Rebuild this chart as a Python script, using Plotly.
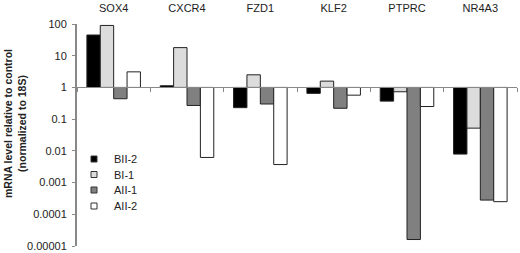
import plotly.graph_objects as go

genes = ["SOX4", "CXCR4", "FZD1", "KLF2", "PTPRC", "NR4A3"]
series_names = ["BII-2", "BI-1", "AII-1", "AII-2"]
bii2 = [45, 1.13, 0.23, 0.65, 0.37, 0.0079]
bi1 = [90, 18, 2.5, 1.58, 0.73, 0.052]
aii1 = [0.44, 0.27, 0.30, 0.22, 0.000016, 0.00028]
aii2 = [3.1, 0.0062, 0.0037, 0.57, 0.25, 0.00025]
tick_vals = [100, 10, 1, 0.1, 0.01, 0.001, 0.0001, 0.00001]
tick_text = ["100", "10", "1", "0.1", "0.01", "0.001", "0.0001", "0.00001"]

fills = ["#000000", "#dcdcdc", "#808080", "#ffffff"]
all_vals = [bii2, bi1, aii1, aii2]

fig = go.Figure()
for name, vals, col in zip(series_names, all_vals, fills):
    fig.add_trace(go.Bar(
        x=genes, y=[v - 1 for v in vals], base=1, name=name,
        marker=dict(color=col, line=dict(color="#222222", width=1)),
        showlegend=False, legendgroup=name,
    ))

# legend entries: small square markers, one legend box each for exact spacing
legend_keys = ["legend", "legend2", "legend3", "legend4"]
for i, (name, col, lk) in enumerate(zip(series_names, fills, legend_keys)):
    fig.add_trace(go.Scatter(
        x=[genes[0]], y=[None], mode="markers", name=name, legendgroup=name,
        marker=dict(symbol="square", size=6, color=col,
                    line=dict(color="#333333", width=1)),
        legend=lk, hoverinfo="skip",
    ))

L, R, T, B = 77, 3, 24, 7
leg_common = dict(xanchor="left", yanchor="middle", bgcolor="rgba(0,0,0,0)",
                  font=dict(size=11), itemwidth=30, borderwidth=0)
leg_y_px = [159, 174.5, 190, 206]
plot_h = 253 - T - B
layout_legends = {}
for lk, ypx in zip(legend_keys, leg_y_px):
    d = dict(leg_common)
    d.update(x=(74 - L) / 440, y=(253 - B - ypx) / plot_h)
    layout_legends[lk] = d

fig.update_layout(
    width=520, height=253,
    margin=dict(l=L, r=R, t=T, b=B, pad=0, autoexpand=False),
    paper_bgcolor="white", plot_bgcolor="white",
    barmode="group", bargap=0.27, bargroupgap=0,
    font=dict(family="Liberation Sans, Arial", size=11, color="#222222"),
    showlegend=True,
    xaxis=dict(type="category", side="top", showline=False, ticks="",
               showgrid=False, zeroline=False, tickfont=dict(size=11),
               ticklabelstandoff=9, automargin=False),
    xaxis2=dict(type="category", overlaying="x", matches="x", anchor="free",
                position=5/7, showline=True, linecolor="#888888", linewidth=1,
                ticks="outside", ticklen=4, tickcolor="#888888",
                tickson="boundaries", showticklabels=False, showgrid=False,
                automargin=False),
    yaxis=dict(type="log", range=[-5, 2], tickvals=tick_vals, ticktext=tick_text,
               showline=True, linecolor="#888888", linewidth=2,
               ticks="outside", ticklen=3, tickcolor="#888888",
               ticklabelstandoff=3,
               showgrid=False, zeroline=False, tickfont=dict(size=11),
               automargin=False),
    annotations=[
        dict(text="<b>mRNA level relative to control</b><br><b>(normalized to 18S)</b>",
             xref="paper", yref="paper", x=0, y=0.5, xshift=-62, yshift=11,
             xanchor="center", yanchor="middle",
             textangle=-90, showarrow=False, font=dict(size=10.5, color="#222222"),
             align="center"),
    ],
    **layout_legends,
)
# invisible trace to activate xaxis2
fig.add_trace(go.Scatter(x=genes, y=[1]*len(genes), xaxis="x2", mode="none",
                         showlegend=False, hoverinfo="skip"))
fig.write_html("out.html", config={"displayModeBar": False},
               post_script="document.body.style.margin='0';")
